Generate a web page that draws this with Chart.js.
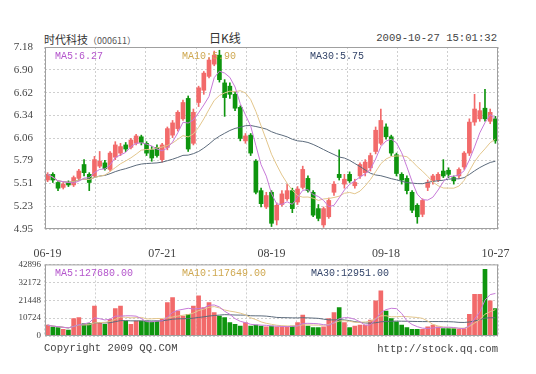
<!DOCTYPE html>
<html>
<head>
<meta charset="utf-8">
<script src="https://cdn.jsdelivr.net/npm/chart.js@4.4.0/dist/chart.umd.min.js"></script>
<style>
  body { margin: 0; background: #fff; width: 536px; height: 374px; overflow: hidden; position: relative; }
  .box { position: absolute; left: 0; width: 536px; }
  .txt { position: absolute; white-space: nowrap; color: #333; }
  .mono { font-family: "Liberation Mono", "DejaVu Sans Mono", monospace; font-size: 10.6px; color: #444; }
</style>
</head>
<body>
<div class="txt" style="left:44px;top:31px;font-family:'Noto Sans CJK SC';font-size:11px;">时代科技<span style="font-size:9px;color:#555">（000611）</span></div>
<div class="txt" style="left:209px;top:29px;font-family:'Noto Sans CJK SC';font-size:12px;">日K线</div>
<div class="txt mono" style="right:39px;top:32px;">2009-10-27 15:01:32</div>
<div class="box" style="top:0;height:258px"><canvas id="kChart"></canvas></div>
<div class="box" style="top:255px;height:100px"><canvas id="volChart"></canvas></div>
<div class="txt mono" style="left:44px;top:342px;">Copyright 2009 QQ.COM</div>
<div class="txt mono" style="right:38px;top:343px;">http://stock.qq.com</div>
<script>
// 交易日
const dates = [
  '06-19','06-22','06-23','06-24','06-25','06-26','06-29','06-30',
  '07-01','07-02','07-03','07-06','07-07','07-08','07-09','07-10','07-13','07-14','07-15','07-16','07-17','07-20','07-21','07-22','07-23','07-24','07-27','07-28','07-29','07-30','07-31',
  '08-03','08-04','08-05','08-06','08-07','08-10','08-11','08-12','08-13','08-14','08-17','08-18','08-19','08-20','08-21','08-24','08-25','08-26','08-27','08-28','08-31',
  '09-01','09-02','09-03','09-04','09-07','09-08','09-09','09-10','09-11','09-14','09-15','09-16','09-17','09-18','09-21','09-22','09-23','09-24','09-25','09-28','09-29','09-30',
  '10-09','10-12','10-13','10-14','10-15','10-16','10-19','10-20','10-21','10-22','10-23','10-26','10-27'
];
const tickDates = ['06-19', '07-21', '08-19', '09-18', '10-27'];

const opens = [5.55,5.62,5.52,5.46,5.52,5.49,5.57,5.74,5.62,5.60,5.72,5.76,5.68,5.83,5.88,5.98,5.95,6.00,6.08,6.00,5.92,5.95,5.80,5.95,6.10,6.18,6.30,6.55,6.00,6.50,6.65,6.82,6.97,7.08,6.74,6.70,6.60,6.44,6.03,6.10,5.78,5.42,5.22,5.40,5.06,5.25,5.32,5.42,5.28,5.46,5.57,5.40,5.20,5.00,5.10,5.40,5.62,5.50,5.62,5.48,5.60,5.64,5.70,5.90,6.00,6.20,6.08,5.86,5.62,5.57,5.40,5.24,5.13,5.46,5.54,5.55,5.66,5.67,5.58,5.60,5.71,5.88,6.26,6.30,6.43,6.27,6.30];
const highs = [5.64,5.64,5.53,5.52,5.54,5.60,5.68,5.80,5.64,5.84,5.90,5.79,5.90,6.02,6.00,6.01,6.06,6.11,6.10,6.02,5.96,5.98,6.00,6.20,6.28,6.40,6.53,6.58,6.42,6.70,6.88,7.05,7.13,7.14,6.78,6.74,6.63,6.46,6.12,6.12,5.80,5.45,5.40,5.42,5.27,5.42,5.50,5.45,5.47,5.72,5.60,5.42,5.25,5.22,5.33,5.53,5.92,5.62,5.65,5.56,5.76,5.80,5.88,6.20,6.42,6.24,6.10,5.88,5.64,5.60,5.42,5.26,5.32,5.55,5.62,5.64,5.80,5.70,5.60,5.70,5.90,6.30,6.60,6.50,6.66,6.42,6.33];
const lows = [5.53,5.52,5.42,5.44,5.47,5.47,5.55,5.60,5.42,5.58,5.70,5.67,5.66,5.80,5.85,5.90,5.93,5.98,5.98,5.85,5.78,5.83,5.77,5.92,6.07,6.15,6.28,5.90,5.98,6.45,6.60,6.80,6.95,6.75,6.33,6.55,6.40,6.03,6.00,5.85,5.38,5.22,5.20,4.98,5.00,5.23,5.30,5.15,5.25,5.44,5.40,5.10,5.05,4.97,5.08,5.36,5.55,5.45,5.52,5.45,5.57,5.60,5.66,5.87,5.98,6.05,5.85,5.60,5.50,5.38,5.15,5.02,5.10,5.42,5.50,5.53,5.58,5.58,5.50,5.57,5.68,5.85,6.22,6.27,6.27,6.24,6.00];
const closes = [5.62,5.55,5.45,5.50,5.49,5.58,5.66,5.64,5.52,5.80,5.78,5.69,5.88,5.98,5.96,5.93,6.04,6.09,6.01,5.88,5.82,5.85,5.98,6.18,6.25,6.38,6.50,5.93,6.38,6.68,6.86,7.02,7.08,6.78,6.56,6.60,6.43,6.06,6.09,5.88,5.40,5.26,5.36,5.02,5.24,5.38,5.42,5.20,5.44,5.68,5.42,5.12,5.08,5.20,5.30,5.50,5.58,5.56,5.54,5.52,5.74,5.77,5.85,6.16,6.28,6.08,5.88,5.63,5.55,5.42,5.18,5.10,5.30,5.52,5.60,5.62,5.60,5.62,5.54,5.68,5.88,6.26,6.42,6.40,6.30,6.38,6.03];
const volumes = [6500,5300,5000,4000,3500,10500,11000,7500,7500,18000,8000,7000,10000,16500,18000,9000,7000,9000,9000,9000,8500,9000,10000,20000,23000,15000,12000,13000,18000,24000,17000,20000,14000,12000,11000,8000,7000,6000,8000,6000,6500,6000,5500,6000,5500,5500,5500,6000,8000,12500,6000,5000,5000,5500,10500,14000,17000,8000,5000,6000,6500,6500,9500,21000,27000,15000,10500,8500,6500,5000,4000,4000,4000,5500,6500,5500,4500,4500,4500,4000,4500,13000,25000,25000,40000,21000,16500];

const priceTicks = [4.95, 5.23, 5.51, 5.79, 6.06, 6.34, 6.62, 6.90, 7.18];
const volTicks = [0, 10724, 21448, 32172, 42896];
const priceLegend = ['MA5:6.27', 'MA10:5.90', 'MA30:5.75'];
const volLegend = ['MA5:127680.00', 'MA10:117649.00', 'MA30:12951.00'];

const upColor = '#f26a6a', downColor = '#0e950e';
const maColors = ['#c77ad8', '#e3c68c', '#5c6b7c'];
const legendColors = ['#b455cc', '#cfa850', '#34456a'];

function ma(src, n) {
  return src.map((_, i) => {
    const s = src.slice(Math.max(0, i - n + 1), i + 1);
    return s.reduce((a, b) => a + b, 0) / s.length;
  });
}

const colors = closes.map((c, i) => c >= opens[i] ? upColor : downColor);

// 边框
const framePlugin = {
  id: 'frame',
  afterDraw(chart) {
    const a = chart.chartArea, c = chart.ctx;
    c.save();
    c.strokeStyle = '#a0a0a0';
    c.lineWidth = 1;
    c.strokeRect(a.left + 0.5, a.top + 0.5, a.right - a.left - 1, a.bottom - a.top - 1);
    c.restore();
  }
};
// 均线标注
const maText = {
  id: 'maText',
  afterDraw(chart, args, opts) {
    const a = chart.chartArea, c = chart.ctx;
    c.save();
    c.font = '10px "Liberation Mono", monospace';
    c.textBaseline = 'top';
    opts.items.forEach((t, i) => {
      c.fillStyle = legendColors[i];
      c.fillText(t, a.left + opts.xs[i], a.top + 4);
    });
    c.restore();
  }
};

function lineSet(data, i) {
  return { type: 'line', data: data, borderColor: maColors[i], borderWidth: 1,
           pointRadius: 0, tension: 0, order: 0 };
}

function gridAxis() {
  return {
    type: 'linear', axis: 'x', position: 'bottom', min: 0, max: 8,
    ticks: { display: false, stepSize: 1 },
    grid: { color: '#cfcfcf', drawTicks: false },
    border: { display: false, dash: [2, 2] },
    afterFit: s => { s.height = 0; }
  };
}

new Chart(document.getElementById('kChart'), {
  type: 'bar',
  data: {
    labels: dates,
    datasets: [
      lineSet(ma(closes, 5), 0),
      lineSet(ma(closes, 10), 1),
      lineSet(ma(closes, 30), 2),
      { data: opens.map((o, i) => [o, closes[i]]), backgroundColor: colors,
        barThickness: 4, grouped: false, minBarLength: 1, order: 1 },
      { data: lows.map((l, i) => [l, highs[i]]), backgroundColor: colors,
        barThickness: 1, grouped: false, order: 2 }
    ]
  },
  options: {
    responsive: true, maintainAspectRatio: false, animation: false,
    layout: { padding: { top: 47, right: 38, left: 0, bottom: 0 } },
    plugins: {
      legend: { display: false }, tooltip: { enabled: false },
      maText: { items: priceLegend, xs: [10, 137, 265] }
    },
    scales: {
      x: {
        grid: { display: false }, border: { display: false },
        ticks: {
          autoSkip: false, maxRotation: 0, padding: 10, color: '#444',
          font: { family: 'Liberation Serif', size: 12 },
          callback: (v, i) => tickDates.includes(dates[i]) ? dates[i] : ''
        },
        afterFit: s => { s.height = 29; }
      },
      xg: gridAxis(),
      y: {
        min: 4.95, max: 7.18,
        afterBuildTicks: s => { s.ticks = priceTicks.map(v => ({ value: v })); },
        ticks: { padding: 12, color: '#444', font: { family: 'Liberation Serif', size: 11 },
                 callback: v => v.toFixed(2) },
        grid: { color: '#cfcfcf', drawTicks: false },
        border: { display: false, dash: [2, 2] },
        afterFit: s => { s.width = 45; }
      }
    }
  },
  plugins: [framePlugin, maText]
});

new Chart(document.getElementById('volChart'), {
  type: 'bar',
  data: {
    labels: dates,
    datasets: [
      lineSet(ma(volumes, 5), 0),
      lineSet(ma(volumes, 10), 1),
      lineSet(ma(volumes, 30), 2),
      { data: volumes, backgroundColor: colors, barThickness: 4, order: 1 }
    ]
  },
  options: {
    responsive: true, maintainAspectRatio: false, animation: false,
    layout: { padding: { top: 8, right: 38, left: 0, bottom: 19 } },
    plugins: {
      legend: { display: false }, tooltip: { enabled: false },
      maText: { items: volLegend, xs: [10, 137, 266] }
    },
    scales: {
      x: { display: false },
      xg: gridAxis(),
      y: {
        min: 0, max: 42896,
        afterBuildTicks: s => { s.ticks = volTicks.map(v => ({ value: v })); },
        ticks: { padding: 4, color: '#444', font: { family: 'Liberation Serif', size: 9 } ,
                 callback: v => String(v) },
        grid: { color: '#cfcfcf', drawTicks: false },
        border: { display: false, dash: [2, 2] },
        afterFit: s => { s.width = 45; }
      }
    }
  },
  plugins: [framePlugin, maText]
});
</script>
</body>
</html>
